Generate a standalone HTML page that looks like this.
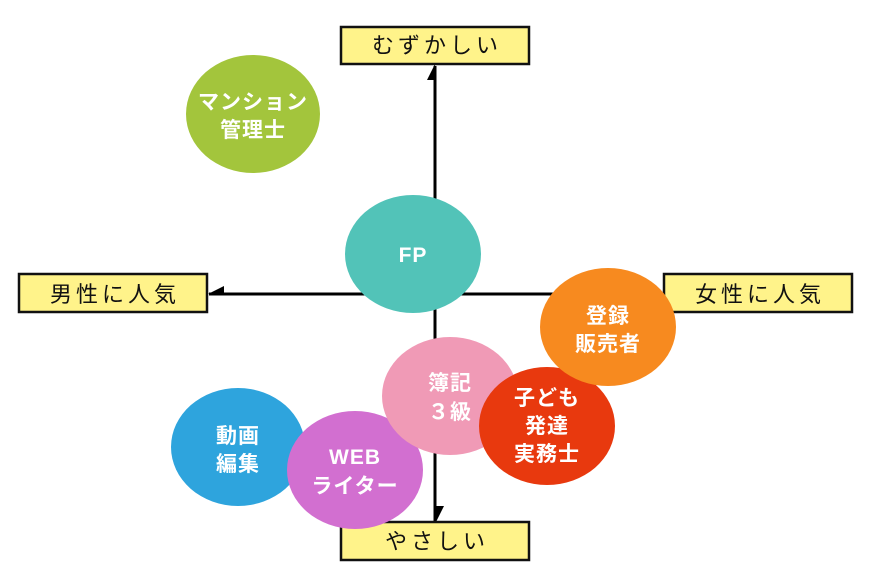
<!DOCTYPE html>
<html><head><meta charset="utf-8"><style>
body{margin:0;background:#fff;}
svg{display:block;}
text{font-family:"Liberation Sans","Noto Sans CJK JP",sans-serif;}
.b{fill:#fff38a;stroke:#111;stroke-width:2.5;}
.bt{font-size:22px;fill:#111;letter-spacing:4px;}
.c{font-size:21px;fill:#fff;font-weight:bold;letter-spacing:1px;}
</style></head><body>
<svg width="870" height="586" viewBox="0 0 870 586">
<line x1="435" y1="66" x2="435" y2="521" stroke="#000" stroke-width="3"/>
<line x1="209" y1="294" x2="664" y2="294" stroke="#000" stroke-width="3"/>
<polygon points="435,64 427,80 436,80" fill="#000"/>
<polygon points="436,522 436,506 444,506" fill="#000"/>
<polygon points="208,294 224,286 224,295" fill="#000"/>
<rect class="b" x="341" y="27" width="188" height="37"/>
<text class="bt" x="437" y="53" text-anchor="middle">むずかしい</text>
<rect class="b" x="19" y="274" width="188" height="38"/>
<text class="bt" x="115" y="302" text-anchor="middle">男性に人気</text>
<rect class="b" x="664" y="274" width="188" height="38"/>
<text class="bt" x="760" y="302" text-anchor="middle">女性に人気</text>
<rect class="b" x="341" y="522" width="188" height="38"/>
<text class="bt" x="437" y="549" text-anchor="middle">やさしい</text>
<ellipse cx="253" cy="114" rx="67" ry="59" fill="#a3c53c"/>
<text class="c" x="253" y="109" text-anchor="middle">マンション</text>
<text class="c" x="253" y="137" text-anchor="middle">管理士</text>
<ellipse cx="413" cy="254" rx="68" ry="59" fill="#52c3b8"/>
<text class="c" x="413" y="262" text-anchor="middle">FP</text>
<ellipse cx="238" cy="447" rx="67" ry="59" fill="#2ea4dd"/>
<text class="c" x="238" y="443" text-anchor="middle">動画</text>
<text class="c" x="238" y="471" text-anchor="middle">編集</text>
<ellipse cx="355" cy="470" rx="68" ry="59" fill="#d26fd0"/>
<text class="c" x="355" y="464" text-anchor="middle">WEB</text>
<text class="c" x="355" y="493" text-anchor="middle">ライター</text>
<ellipse cx="450" cy="396" rx="68" ry="59" fill="#f09ab6"/>
<text class="c" x="450" y="390" text-anchor="middle">簿記</text>
<text class="c" x="450" y="419" text-anchor="middle">３級</text>
<ellipse cx="547" cy="426" rx="68" ry="59" fill="#e8390e"/>
<text class="c" x="547" y="405" text-anchor="middle">子ども</text>
<text class="c" x="547" y="433" text-anchor="middle">発達</text>
<text class="c" x="547" y="461" text-anchor="middle">実務士</text>
<ellipse cx="608" cy="327" rx="68" ry="59" fill="#f78a1f"/>
<text class="c" x="608" y="323" text-anchor="middle">登録</text>
<text class="c" x="608" y="351" text-anchor="middle">販売者</text>
</svg>
</body></html>
